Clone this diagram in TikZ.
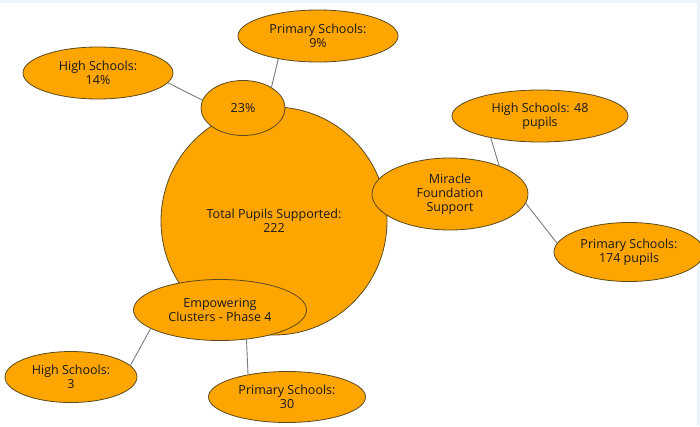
\documentclass[tikz,border=0pt]{standalone}
\usepackage{fontspec}
\setmainfont{Open Sans}
\usetikzlibrary{shapes.geometric}
\definecolor{bubblefill}{HTML}{FFA500}
\definecolor{bubbleline}{HTML}{5A4A1E}
\definecolor{linkgray}{HTML}{7A7A7A}
\definecolor{edgeblue}{HTML}{EEF4FB}
\begin{document}
\begin{tikzpicture}[
    x=1pt, y=-1pt,
    every node/.style={ellipse, draw=bubbleline, fill=bubblefill, line width=0.8pt,
        inner sep=0pt, align=center, text=black!90,
        font=\fontsize{12.5}{14}\selectfont},
    link/.style={draw=linkgray, line width=0.9pt}
]
\useasboundingbox (0,0) rectangle (700,426);
\fill[edgeblue] (0,0) rectangle (700,3);
\fill[edgeblue] (697,0) rectangle (700,426);

\node[minimum width=226pt, minimum height=228pt] (total) at (274,221) {Total Pupils Supported:\\222};
\node[minimum width=84pt, minimum height=55pt] (pct) at (243,108) {23\%};
\node[minimum width=160pt, minimum height=52pt] (ps9) at (318,36) {Primary Schools:\\9\%};
\node[minimum width=150pt, minimum height=52pt] (hs14) at (98,73) {High Schools:\\14\%};
\node[minimum width=156pt, minimum height=72pt] (miracle) at (450,194) {Miracle\\Foundation\\Support};
\node[minimum width=176pt, minimum height=52pt] (hs48) at (540,116) {High Schools: 48\\pupils};
\node[minimum width=150pt, minimum height=59pt] (ps174) at (629,252) {Primary Schools:\\174 pupils};
\node[minimum width=173pt, minimum height=61pt] (clusters) at (220,310) {Empowering\\Clusters - Phase 4};
\node[minimum width=132pt, minimum height=51pt] (hs3) at (71,377) {High Schools:\\3};
\node[minimum width=157pt, minimum height=51pt] (ps30) at (287,397) {Primary Schools:\\30};

\draw[link] (pct.169) -- (hs14.352);
\draw[link] (pct.36) -- (ps9.210);
\draw[link] (miracle.30) -- (hs48.204);
\draw[link] (miracle.353) -- (ps174.173);
\draw[link] (clusters.195) -- (hs3.11);
\draw[link] (clusters.312) -- (ps30.150);
\end{tikzpicture}
\end{document}
